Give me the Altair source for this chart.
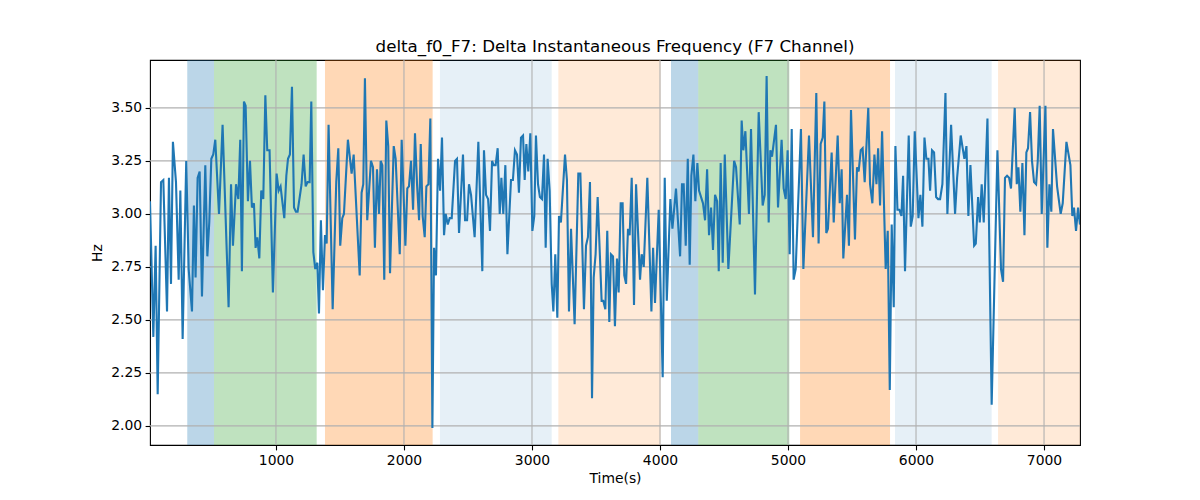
import altair as alt
import pandas as pd

# ---- data ----
times = [16, 42, 60, 76, 102, 120, 149, 164, 180, 195, 219, 240, 253, 271, 299, 318, 344, 359, 372, 388,
         404, 422, 448, 464, 479, 495, 510, 526, 555, 583, 630, 649, 664, 688, 706, 721, 734, 750, 763, 781,
         797, 812, 828, 841, 854, 870, 885, 901, 917, 932, 950, 976, 1005, 1021, 1036, 1065, 1081, 1094, 1109, 1125,
         1141, 1156, 1169, 1200, 1216, 1232, 1247, 1263, 1276, 1292, 1307, 1323, 1336, 1351, 1367, 1383, 1396, 1411, 1443, 1471,
         1487, 1502, 1518, 1531, 1562, 1591, 1607, 1654, 1669, 1682, 1695, 1713, 1742, 1758, 1773, 1789, 1805, 1818, 1831, 1846,
         1862, 1877, 1891, 1920, 1935, 1967, 1982, 2011, 2026, 2039, 2055, 2071, 2086, 2102, 2118, 2131, 2146, 2162, 2175, 2191,
         2206, 2222, 2235, 2250, 2266, 2282, 2297, 2313, 2326, 2342, 2357, 2373, 2399, 2414, 2430, 2461, 2477, 2493, 2508, 2524,
         2552, 2581, 2612, 2625, 2641, 2657, 2672, 2688, 2701, 2716, 2732, 2748, 2761, 2776, 2792, 2808, 2836, 2851, 2867, 2883,
         2898, 2914, 2930, 2943, 2956, 2971, 2987, 3003, 3018, 3031, 3047, 3062, 3078, 3094, 3107, 3122, 3138, 3154, 3167, 3182,
         3198, 3211, 3226, 3258, 3273, 3289, 3305, 3333, 3362, 3378, 3406, 3422, 3437, 3453, 3469, 3482, 3497, 3513, 3544, 3557,
         3573, 3588, 3604, 3617, 3633, 3648, 3664, 3677, 3693, 3708, 3721, 3735, 3750, 3763, 3779, 3797, 3813, 3844, 3857, 3873,
         3901, 3933, 3946, 3961, 3990, 4021, 4037, 4053, 4081, 4097, 4125, 4157, 4172, 4185, 4201, 4217, 4232, 4245, 4261, 4276,
         4292, 4305, 4336, 4352, 4368, 4383, 4399, 4414, 4430, 4446, 4459, 4474, 4490, 4506, 4534, 4579, 4594, 4623, 4638, 4651,
         4667, 4695, 4711, 4742, 4771, 4802, 4818, 4833, 4849, 4862, 4875, 4906, 4922, 4950, 4966, 4982, 4997, 5013, 5029, 5044,
         5060, 5101, 5120, 5164, 5195, 5221, 5239, 5255, 5271, 5284, 5299, 5312, 5341, 5357, 5388, 5404, 5419, 5432, 5461, 5476,
         5492, 5523, 5539, 5552, 5568, 5583, 5599, 5627, 5641, 5659, 5675, 5691, 5704, 5719, 5735, 5763, 5779, 5795, 5810, 5826,
         5839, 5855, 5870, 5886, 5899, 5914, 5943, 5959, 5974, 5990, 6019, 6034, 6050, 6066, 6081, 6097, 6110, 6125, 6141, 6157,
         6172, 6188, 6206, 6230, 6245, 6274, 6305, 6321, 6349, 6362, 6378, 6394, 6409, 6425, 6454, 6467, 6485, 6498, 6513, 6529,
         6558, 6591, 6636, 6664, 6680, 6695, 6711, 6727, 6742, 6771, 6787, 6800, 6815, 6831, 6847, 6862, 6875, 6891, 6906, 6922,
         6938, 6951, 6966, 6982, 7011, 7026, 7042, 7057, 7070, 7102, 7130, 7146, 7175, 7206, 7221, 7234, 7250, 7266, 7281]

values = [3.06, 2.42, 2.85, 2.15, 3.15, 3.16, 2.54, 3.17, 2.67, 3.34, 3.15, 2.69, 3.11, 2.41, 3.25, 2.74, 2.54, 3.04, 2.70, 3.17,
          3.20, 2.61, 3.23, 2.80, 2.96, 3.26, 3.28, 3.35, 3.00, 3.42, 2.56, 3.14, 2.85, 3.14, 3.07, 3.35, 2.73, 3.53, 3.51, 3.06,
          3.25, 3.03, 3.05, 2.84, 2.89, 2.79, 3.11, 3.07, 3.56, 3.30, 3.30, 2.63, 3.19, 3.11, 3.13, 2.98, 3.18, 3.26, 3.28, 3.60,
          3.03, 3.01, 3.01, 3.14, 3.28, 3.13, 3.15, 3.15, 3.53, 2.82, 2.74, 2.77, 2.53, 2.97, 2.64, 2.90, 2.86, 3.42, 2.55, 3.15,
          3.31, 2.85, 2.98, 3.00, 3.35, 3.19, 3.28, 2.71, 3.10, 3.14, 3.64, 2.97, 3.25, 3.22, 2.84, 3.21, 3.00, 3.25, 3.23, 2.69,
          3.44, 3.32, 2.72, 3.32, 3.26, 2.81, 3.35, 2.85, 3.12, 3.13, 3.25, 3.02, 3.38, 3.14, 2.97, 3.33, 2.99, 2.89, 3.13, 3.14,
          3.45, 1.99, 2.84, 2.71, 3.26, 3.11, 3.36, 2.90, 3.00, 2.95, 2.98, 2.98, 3.25, 3.26, 2.91, 3.28, 2.97, 2.97, 3.14, 3.09,
          2.89, 3.34, 2.73, 3.30, 3.09, 3.07, 2.92, 3.25, 3.23, 3.23, 3.31, 3.00, 3.17, 3.00, 3.23, 2.81, 3.16, 3.16, 3.30, 3.28,
          3.10, 3.36, 3.37, 3.16, 3.33, 3.20, 3.38, 2.92, 2.99, 3.37, 3.14, 3.08, 3.07, 3.28, 2.84, 3.26, 3.11, 2.67, 2.54, 2.81,
          2.51, 2.99, 2.96, 3.28, 3.16, 2.54, 2.93, 2.48, 3.19, 3.19, 2.55, 2.85, 2.89, 3.15, 2.13, 2.70, 2.81, 3.08, 2.59, 2.59,
          2.55, 2.92, 2.49, 2.81, 2.80, 2.47, 2.79, 2.63, 3.05, 3.05, 2.71, 2.67, 2.93, 2.90, 3.17, 2.57, 3.14, 2.69, 2.81, 2.75,
          3.17, 2.54, 2.84, 2.58, 3.02, 2.23, 3.17, 2.59, 3.07, 2.93, 3.12, 2.80, 3.14, 3.14, 2.85, 3.26, 2.76, 3.18, 3.28, 3.06,
          3.24, 3.11, 3.05, 2.97, 3.21, 2.90, 3.03, 2.83, 3.09, 3.06, 2.73, 3.24, 2.77, 3.28, 2.74, 3.25, 3.22, 2.95, 3.44, 3.30,
          3.39, 3.00, 3.40, 2.62, 3.48, 3.04, 3.09, 3.65, 2.96, 3.30, 3.27, 3.42, 3.03, 3.35, 3.12, 3.07, 3.30, 2.81, 3.40, 2.69,
          2.74, 3.40, 2.74, 3.37, 2.89, 3.57, 2.86, 3.33, 3.36, 3.53, 2.91, 2.93, 3.29, 2.96, 3.37, 3.05, 3.21, 2.79, 3.09, 2.85,
          3.49, 2.88, 3.22, 3.20, 3.30, 3.31, 3.15, 3.50, 3.14, 3.05, 3.28, 3.14, 3.31, 3.04, 3.39, 2.74, 2.92, 2.17, 2.95, 2.56,
          3.32, 3.02, 3.02, 2.99, 3.18, 2.73, 3.37, 2.94, 2.99, 3.39, 2.98, 3.09, 2.94, 3.36, 3.26, 3.26, 3.11, 3.30, 3.29, 3.08,
          3.07, 3.07, 3.14, 3.57, 3.00, 3.42, 3.00, 3.17, 3.37, 3.32, 3.26, 3.32, 2.99, 3.23, 2.85, 2.86, 3.08, 2.96, 3.14, 2.96,
          3.45, 2.10, 3.30, 2.74, 2.68, 3.17, 3.18, 3.17, 3.12, 3.50, 3.14, 3.22, 3.01, 3.24, 2.90, 3.29, 3.31, 3.48, 3.25, 3.15,
          3.14, 3.25, 3.51, 3.00, 3.51, 2.84, 3.14, 3.01, 3.40, 3.13, 3.00, 3.05, 3.34, 3.23, 2.99, 3.03, 2.92, 3.03, 2.95]

span_start = [307, 516, 1383, 2281, 3206, 4086, 4299, 5094, 5836, 6641]
span_end = [516, 1318, 2224, 3154, 4005, 4299, 5010, 5797, 6591, 7281]
span_color = ["#1f77b4", "#2ca02c", "#ff7f0e", "#1f77b4", "#ff7f0e",
              "#1f77b4", "#2ca02c", "#ff7f0e", "#1f77b4", "#ff7f0e"]
span_opacity = [0.3, 0.3, 0.3, 0.11, 0.16, 0.3, 0.3, 0.3, 0.11, 0.16]

x_ticks = [1000, 2000, 3000, 4000, 5000, 6000, 7000]
y_ticks = [2.00, 2.25, 2.50, 2.75, 3.00, 3.25, 3.50]

x_domain = [times[0], times[-1]]
y_domain = [1.91, 3.726]

line_df = pd.DataFrame({"t": times, "v": values})
span_df = pd.DataFrame({"s": span_start, "e": span_end, "c": span_color, "o": span_opacity})
xg_df = pd.DataFrame({"t": x_ticks})
yg_df = pd.DataFrame({"v": y_ticks})

xs = alt.Scale(domain=x_domain, nice=False, zero=False)
ys = alt.Scale(domain=y_domain, nice=False, zero=False)

x_axis = alt.Axis(values=x_ticks, format="d", grid=False, title="Time(s)",
                  tickSize=4.9, tickWidth=1.1, tickColor="black", labelPadding=3.5,
                  titlePadding=4, domain=False)
y_axis = alt.Axis(values=y_ticks, format=".2f", grid=False, title="Hz",
                  tickSize=4.9, tickWidth=1.1, tickColor="black", labelPadding=3.5,
                  titlePadding=6, domain=False)

spans = alt.Chart(span_df).mark_rect(clip=True).encode(
    x=alt.X("s:Q", scale=xs, axis=x_axis),
    x2="e:Q",
    color=alt.Color("c:N", scale=None),
    opacity=alt.Opacity("o:Q", scale=None),
)

xgrid = alt.Chart(xg_df).mark_rule(color="#b0b0b0", strokeWidth=1.1).encode(
    x=alt.X("t:Q", scale=xs)
)
ygrid = alt.Chart(yg_df).mark_rule(color="#b0b0b0", strokeWidth=1.1).encode(
    y=alt.Y("v:Q", scale=ys, axis=y_axis)
)

line = alt.Chart(line_df).mark_line(color="#1f77b4", strokeWidth=2.1, clip=True).encode(
    x=alt.X("t:Q", scale=xs, axis=x_axis),
    y=alt.Y("v:Q", scale=ys, axis=y_axis),
)

chart = alt.layer(spans, xgrid, ygrid, line).properties(
    width=930,
    height=385,
    title=alt.TitleParams("delta_f0_F7: Delta Instantaneous Frequency (F7 Channel)",
                          fontSize=16.7, fontWeight="normal", font="DejaVu Sans",
                          color="black", offset=8, dy=21, baseline="bottom"),
    autosize=alt.AutoSizeParams(type="none"),
    padding={"left": 142, "top": 52, "right": 100, "bottom": 40},
).configure_axis(
    labelFont="DejaVu Sans", titleFont="DejaVu Sans",
    labelFontSize=13.9, titleFontSize=13.9,
    labelColor="black", titleColor="black", titleFontWeight="normal",
).configure_view(
    stroke="black", strokeWidth=1.1
)

chart.save("out.html", embed_options={"renderer": "svg", "actions": False})
